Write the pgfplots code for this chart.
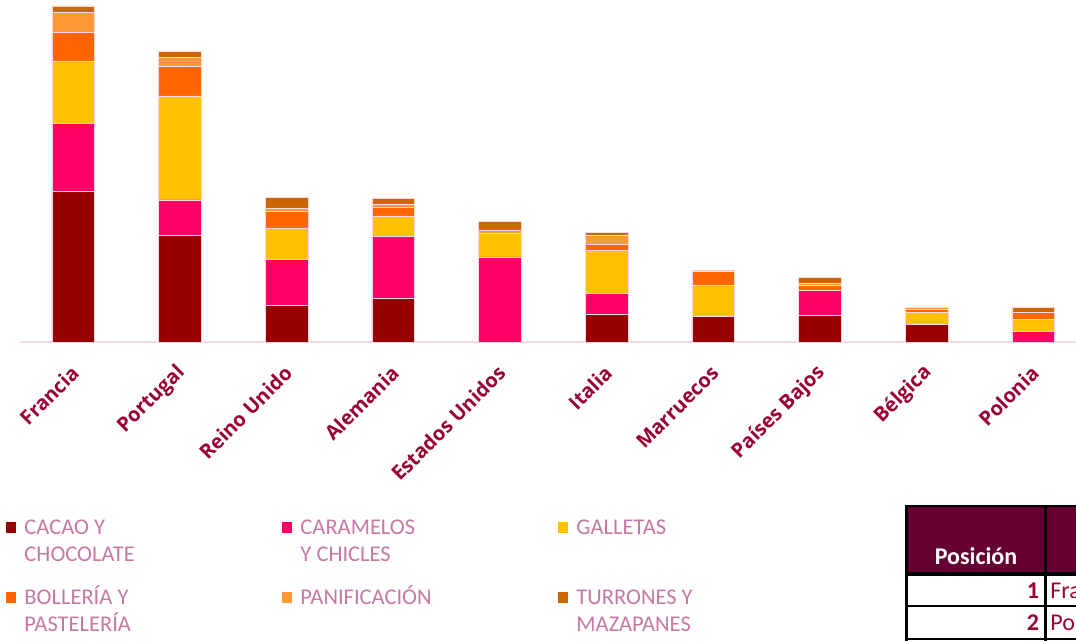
\documentclass[border=0pt]{standalone}
\usepackage{fontspec}
\setmainfont{Carlito}
\newfontfamily\labfont{Open Sans}
\usepackage{pgfplots}
\usepackage{pgfplotstable}
\pgfplotsset{compat=1.18}
\definecolor{cacao}{HTML}{990000}
\definecolor{caram}{HTML}{FF0066}
\definecolor{gall}{HTML}{FFC000}
\definecolor{boll}{HTML}{FF6600}
\definecolor{panif}{HTML}{FF9933}
\definecolor{turr}{HTML}{CC6600}
\definecolor{labcol}{HTML}{990033}
\definecolor{legtxt}{RGB}{198,120,164}
\definecolor{axcol}{RGB}{242,218,230}
\definecolor{hdr}{HTML}{660033}
\definecolor{barline}{RGB}{250,215,225}
\pgfplotstableread{
x cacao caram gall boll panif turr
0 151 67.6 62 29 20 6.7
1 106.6 35.7 104 29.3 9.7 5.3
2 37 45.6 31.7 17 3 10.3
3 44 61.6 20.7 9 3 5.3
4 0 85.3 23.3 0 3.7 8.3
5 28.3 20.3 43 6 9.7 2.7
6 25.6 0 31.7 14 0.5 0
7 27.3 24.3 0 5 2.7 5.3
8 18.3 0 12 3 2 0
9 0 11.3 11.7 7.3 0 4.7
}\datatable
\begin{document}
\begin{tikzpicture}
\useasboundingbox (0,0) rectangle (538pt,-320.5pt);
\clip (0,0) rectangle (538pt,-320.5pt);
\begin{axis}[
  at={(10pt,-171.15pt)}, anchor=south west,
  scale only axis, width=528pt, height=170pt,
  xmin=-0.5, xmax=9.4, ymin=0, ymax=340,
  ybar stacked, bar width=21.35pt,
  axis x line=bottom, axis y line=none,
  x axis line style={draw=axcol, line width=1pt, -},
  xtick={0,...,9},
  xticklabels={Francia,Portugal,Reino Unido,Alemania,Estados Unidos,Italia,Marruecos,Países Bajos,Bélgica,Polonia},
  major tick length=0pt,
  ytick=\empty,
  xticklabel style={xshift=1pt, yshift=-13.5pt, rotate=45, anchor=east, inner sep=0pt,
     font=\labfont\bfseries\fontsize{10}{12}\selectfont, text=labcol},
  legend image code/.code={\path[#1,draw=none] (0pt,1pt) rectangle (5.25pt,6.25pt);},
  legend style={at={(axis description cs:-0.01326,-0.5138)}, anchor=north west,
     draw=none, fill=none, inner sep=0pt, outer sep=0pt,
     legend columns=3, font=\fontsize{11.25}{13.35}\selectfont, text=legtxt,
     row sep=6pt,
     /tikz/every odd column/.append style={column sep=4pt},
     nodes={inner sep=0pt, text height=9pt, text depth=20pt, anchor=base west}},
  legend cell align=left,
]
\addplot[fill=cacao, draw=barline, line width=0.3pt] table[x=x,y=cacao]{\datatable};
\addlegendentry{\parbox[t]{128.75pt}{CACAO Y\\CHOCOLATE}}
\addplot[fill=caram, draw=barline, line width=0.3pt] table[x=x,y=caram]{\datatable};
\addlegendentry{\parbox[t]{128.75pt}{CARAMELOS\\Y CHICLES}}
\addplot[fill=gall, draw=barline, line width=0.3pt] table[x=x,y=gall]{\datatable};
\addlegendentry{\parbox[t]{128.75pt}{GALLETAS}}
\addplot[fill=boll, draw=barline, line width=0.3pt] table[x=x,y=boll]{\datatable};
\addlegendentry{\parbox[t]{128.75pt}{BOLLERÍA Y\\PASTELERÍA}}
\addplot[fill=panif, draw=barline, line width=0.3pt] table[x=x,y=panif]{\datatable};
\addlegendentry{\parbox[t]{128.75pt}{PANIFICACIÓN}}
\addplot[fill=turr, draw=barline, line width=0.3pt] table[x=x,y=turr]{\datatable};
\addlegendentry{\parbox[t]{128.75pt}{TURRONES Y\\MAZAPANES}}
\end{axis}
\begin{scope}[x=0.5pt,y=-0.5pt]
 \fill[hdr] (907,506) rectangle (1080,572);
 \fill[black] (905,504.5) rectangle (1080,507);
 \fill[black] (905,504.5) rectangle (907.5,645);
 \fill[black] (1044.3,504.5) rectangle (1046.8,645);
 \fill[black] (905,571.7) rectangle (1080,576);
 \fill[black] (905,605) rectangle (1080,607.2);
 \fill[black] (905,637.8) rectangle (1080,640);
 \node[anchor=base, inner sep=0pt, text=white, font=\bfseries\fontsize{12}{14}\selectfont] at (976,564) {Posición};
 \node[anchor=base east, inner sep=0pt, text=labcol, font=\bfseries\fontsize{12}{14}\selectfont] at (1039.5,598.3) {1};
 \node[anchor=base west, inner sep=0pt, text=labcol, font=\fontsize{12}{14}\selectfont] at (1050,598.3) {Francia};
 \node[anchor=base east, inner sep=0pt, text=labcol, font=\bfseries\fontsize{12}{14}\selectfont] at (1039.5,630.7) {2};
 \node[anchor=base west, inner sep=0pt, text=labcol, font=\fontsize{12}{14}\selectfont] at (1050,630.7) {Portugal};
\end{scope}
\end{tikzpicture}
\end{document}
